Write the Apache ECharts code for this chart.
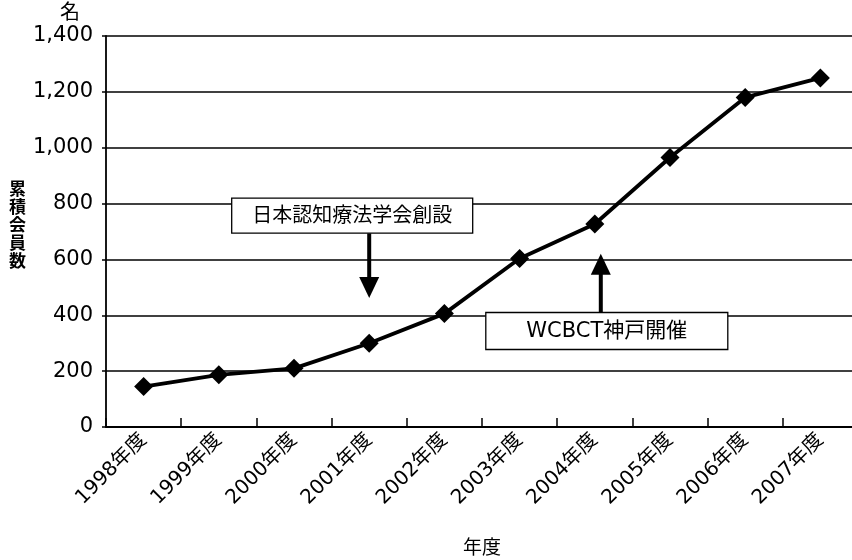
<!DOCTYPE html>
<html>
<head>
<meta charset="utf-8">
<script src="https://cdn.jsdelivr.net/npm/echarts@6/dist/echarts.min.js"></script>
<style>
  html, body { margin: 0; padding: 0; background: #fff; }
  #chart { width: 852px; height: 560px; }
</style>
</head>
<body>
<div id="chart"></div>
<script>
// Fiscal years and cumulative membership
const years = ['1998年度', '1999年度', '2000年度', '2001年度', '2002年度',
               '2003年度', '2004年度', '2005年度', '2006年度', '2007年度'];
const members = [145, 187, 210, 300, 406, 603, 727, 965, 1180, 1250];

// Event annotations (text and the year they point at)
const noteTexts = ['日本認知療法学会創設', 'WCBCT神戸開催'];
const noteYears = ['2001年度', '2004年度'];

const FONT = '"DejaVu Sans", "Noto Sans CJK JP", sans-serif';

const chart = echarts.init(document.getElementById('chart'), null, { renderer: 'canvas' });

function withComma(v) {
  return String(v).replace(/\B(?=(\d{3})+(?!\d))/g, ',');
}

chart.setOption({
  backgroundColor: '#ffffff',
  animation: false,
  grid: { left: 106, top: 36, right: -6, bottom: 133, containLabel: false, outerBoundsMode: 'none' },
  xAxis: {
    type: 'category',
    data: years,
    boundaryGap: true,
    name: '年度',
    nameLocation: 'middle',
    nameGap: 113,
    nameTextStyle: { color: '#000', fontSize: 19, fontFamily: FONT },
    axisLine: { lineStyle: { color: '#000', width: 1.8 } },
    axisTick: { show: true, inside: true, length: 9, lineStyle: { color: '#000', width: 1.5 } },
    axisLabel: {
      rotate: 45, color: '#000', fontSize: 20, fontFamily: FONT, margin: 10
    }
  },
  yAxis: {
    type: 'value',
    min: 0, max: 1400, interval: 200,
    axisLine: { show: true, lineStyle: { color: '#000', width: 1.8 } },
    axisTick: { show: true, length: 4, lineStyle: { color: '#000', width: 1.5 } },
    splitLine: { lineStyle: { color: '#000', width: 1.6 } },
    axisLabel: {
      color: '#000', fontSize: 21, fontFamily: FONT, margin: 13,
      formatter: withComma
    }
  },
  series: [{
    type: 'line',
    data: members,
    symbol: 'diamond',
    symbolSize: [19, 19],
    lineStyle: { color: '#000', width: 3.8 },
    itemStyle: { color: '#000' },
    z: 5
  }]
});

// Axis captions and annotation boxes with arrows, placed from data coordinates
function drawExtras() {
  const px = (cat, val) => chart.convertToPixel({ xAxisIndex: 0, yAxisIndex: 0 }, [cat, val]);
  const elements = [];

  elements.push({
    type: 'text', left: 60, top: 4,
    style: { text: '名', fill: '#000', font: '20px ' + FONT }
  });
  elements.push({
    type: 'text', left: 9, top: 182,
    style: { text: '累\n積\n会\n員\n数', fill: '#000', font: 'bold 17px ' + FONT, lineHeight: 18 }
  });

  // Down arrow: society founding
  const a1top = px(noteYears[0], 694);
  const a1tip = px(noteYears[0], 462);
  // Up arrow: congress in Kobe
  const a2base = px(noteYears[1], 410);
  const a2tip = px(noteYears[1], 620);
  const x2 = a2base[0] + 6;

  const boxes = [
    { cx: a1top[0] - 17, top: a1top[1] - 35, w: 241, h: 35, text: noteTexts[0], fs: 20 },
    { cx: x2 + 6, top: a2base[1], w: 242, h: 37, text: noteTexts[1], fs: 21 }
  ];
  boxes.forEach(b => {
    elements.push({
      type: 'rect', z: 10,
      shape: { x: b.cx - b.w / 2, y: b.top, width: b.w, height: b.h },
      style: { fill: '#fff', stroke: '#000', lineWidth: 1.3 }
    });
    elements.push({
      type: 'text', z: 11,
      x: b.cx, y: b.top + b.h / 2 + 1,
      style: { text: b.text, fill: '#000', font: b.fs + 'px ' + FONT, align: 'center', verticalAlign: 'middle' }
    });
  });

  // shaft + head
  elements.push({
    type: 'line', z: 9,
    shape: { x1: a1top[0], y1: a1top[1], x2: a1top[0], y2: a1tip[1] - 18 },
    style: { stroke: '#000', lineWidth: 4 }
  });
  elements.push({
    type: 'polygon', z: 9,
    shape: { points: [[a1top[0] - 10, a1tip[1] - 21], [a1top[0] + 10, a1tip[1] - 21], [a1top[0], a1tip[1]]] },
    style: { fill: '#000' }
  });
  elements.push({
    type: 'line', z: 9,
    shape: { x1: x2, y1: a2base[1], x2: x2, y2: a2tip[1] + 18 },
    style: { stroke: '#000', lineWidth: 4 }
  });
  elements.push({
    type: 'polygon', z: 9,
    shape: { points: [[x2 - 10, a2tip[1] + 21], [x2 + 10, a2tip[1] + 21], [x2, a2tip[1]]] },
    style: { fill: '#000' }
  });

  chart.setOption({ graphic: { elements: elements } });
}
drawExtras();
</script>
</body>
</html>
